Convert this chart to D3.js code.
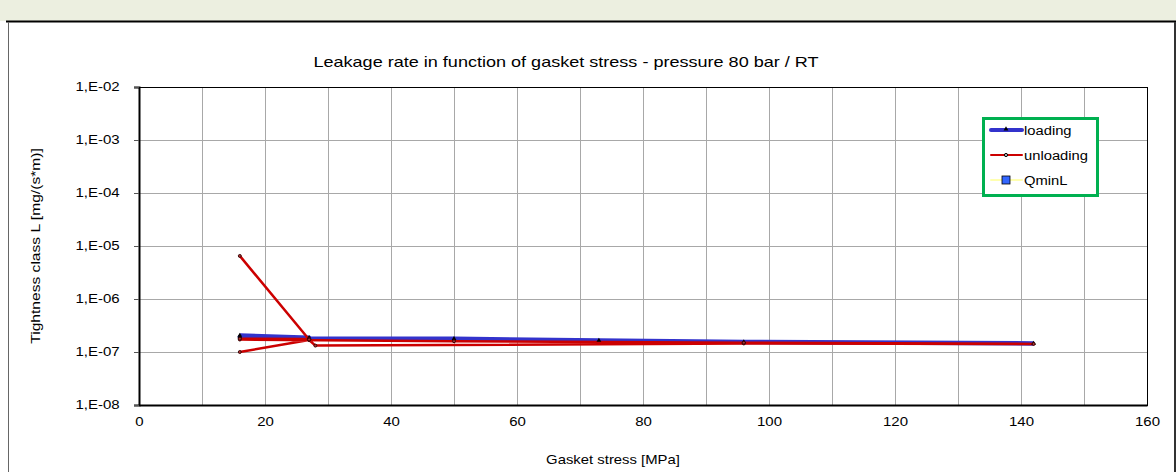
<!DOCTYPE html>
<html>
<head>
<meta charset="utf-8">
<script src="https://cdn.jsdelivr.net/npm/d3@7"></script>
<style>
  body { margin: 0; background: #fff; }
  svg { display: block; font-family: "Liberation Sans", Arial, sans-serif; }
</style>
</head>
<body>
<div id="chart"></div>
<script>
// values
var xTicks = [0, 20, 40, 60, 80, 100, 120, 140, 160];
var yTicks = [1e-2, 1e-3, 1e-4, 1e-5, 1e-6, 1e-7, 1e-8];
var yTickLabels = ["1,E-02", "1,E-03", "1,E-04", "1,E-05", "1,E-06", "1,E-07", "1,E-08"];

// gasket stress [MPa], leakage [mg/(s*m)]
var loadingX = [16, 27, 16, 27, 50, 73, 96, 142];
var loadingY = [2.05e-7, 1.85e-7, 1.92e-7, 1.8e-7, 1.78e-7, 1.65e-7, 1.55e-7, 1.45e-7];

var unloadingX = [16, 27, 28, 96, 142, 96, 50, 16, 27, 16, 27, 16];
var unloadingY = [1.0e-7, 1.68e-7, 1.32e-7, 1.45e-7, 1.42e-7, 1.5e-7, 1.6e-7, 1.72e-7, 1.75e-7, 1.78e-7, 1.72e-7, 6.5e-6];

var qminX = [];
var qminY = [];

var seriesNames = ["loading", "unloading", "QminL"];

var W = 1176, H = 472;
var margin = {left: 139, right: 1147, top: 87, bottom: 405};
var stretch = 1.25; // the picture's text is drawn wide

var svg = d3.select("#chart").append("svg").attr("width", W).attr("height", H);

// frame of the sheet
svg.append("rect").attr("x", 0).attr("y", 0).attr("width", W).attr("height", 21).attr("fill", "#ecefe0");
svg.append("line").attr("x1", 6).attr("x2", W).attr("y1", 21.5).attr("y2", 21.5)
   .attr("stroke", "#000").attr("stroke-width", 2);
svg.append("line").attr("x1", 8.5).attr("x2", 8.5).attr("y1", 22).attr("y2", H)
   .attr("stroke", "#666").attr("stroke-width", 1);
svg.append("line").attr("x1", 1175).attr("x2", 1175).attr("y1", 22).attr("y2", H)
   .attr("stroke", "#333").attr("stroke-width", 2);

var x = d3.scaleLinear().domain([0, 160]).range([margin.left, margin.right]);
var y = d3.scaleLog().domain([1e-8, 1e-2]).range([margin.bottom, margin.top]);

var plotW = margin.right - margin.left, plotH = margin.bottom - margin.top;

// grid
var grid = svg.append("g").attr("shape-rendering", "crispEdges");
grid.selectAll(".vg").data(d3.range(10, 160, 10)).enter().append("line")
    .attr("x1", function(d){ return x(d); }).attr("x2", function(d){ return x(d); })
    .attr("y1", margin.top).attr("y2", margin.bottom)
    .attr("stroke", "#a8a8a8");
grid.selectAll(".hg").data(yTicks.slice(1, 6)).enter().append("line")
    .attr("x1", margin.left).attr("x2", margin.right)
    .attr("y1", function(d){ return y(d); }).attr("y2", function(d){ return y(d); })
    .attr("stroke", "#a8a8a8");

// plot border
svg.append("rect").attr("x", margin.left).attr("y", margin.top)
   .attr("width", plotW).attr("height", plotH)
   .attr("fill", "none").attr("stroke", "#000").attr("stroke-width", 1)
   .attr("shape-rendering", "crispEdges");

// axes
var yAxis = d3.axisLeft(y).tickValues(yTicks)
    .tickFormat(function(d, i){ return yTickLabels[i]; })
    .tickSize(5).tickPadding(10.5);
var gy = svg.append("g").attr("transform", "translate(" + margin.left + ",0)").call(yAxis);
gy.select(".domain").attr("stroke-width", 2);
gy.selectAll("text").attr("font-size", 12).attr("fill", "#000")
  .attr("transform", "scale(" + stretch + ",1)")
  .attr("font-family", "Liberation Sans, Arial, sans-serif");
gy.selectAll(".tick line").attr("stroke", "#555");

var xAxis = d3.axisBottom(x).tickValues(xTicks).tickSize(0).tickPadding(12);
var gx = svg.append("g").attr("transform", "translate(0," + margin.bottom + ")").call(xAxis);
gx.select(".domain").attr("stroke-width", 2);
gx.selectAll("text").attr("font-size", 12).attr("fill", "#000")
  .attr("transform", "scale(" + stretch + ",1)")
  .attr("font-family", "Liberation Sans, Arial, sans-serif");

// titles
function wideText(px, py, sx, size, str) {
  return svg.append("text").attr("transform", "translate(" + px + "," + py + ") scale(" + sx + ",1)")
    .attr("text-anchor", "middle").attr("font-size", size).text(str);
}
wideText(566, 67, 1.29, 14, "Leakage rate in function of gasket stress - pressure 80 bar / RT");
wideText(613, 464, 1.24, 12, "Gasket stress [MPa]");
svg.append("text").attr("transform", "translate(40,246) rotate(-90) scale(1.3,1)").attr("text-anchor", "middle")
   .attr("font-size", 12).text("Tightness class L [mg/(s*m)]");

var line = d3.line().x(function(d){ return x(d[0]); }).y(function(d){ return y(d[1]); });
var loading = d3.zip(loadingX, loadingY);
var unloading = d3.zip(unloadingX, unloadingY);
var qmin = d3.zip(qminX, qminY);

var plot = svg.append("g");
plot.append("path").datum(loading).attr("d", line)
    .attr("fill", "none").attr("stroke", "#3333cc").attr("stroke-width", 4.5)
    .attr("stroke-linejoin", "round");
plot.append("path").datum(unloading).attr("d", line)
    .attr("fill", "none").attr("stroke", "#cc0000").attr("stroke-width", 2.5)
    .attr("stroke-linejoin", "round");

var tri = d3.symbol().type(d3.symbolTriangle).size(10);
plot.selectAll(".lm").data(loading).enter().append("path")
    .attr("transform", function(d){ return "translate(" + x(d[0]) + "," + y(d[1]) + ")"; })
    .attr("d", tri).attr("fill", "#000");
plot.selectAll(".um").data(unloading).enter().append("circle")
    .attr("cx", function(d){ return x(d[0]); }).attr("cy", function(d){ return y(d[1]); })
    .attr("r", 1.5).attr("fill", "#a33").attr("stroke", "#300").attr("stroke-width", 0.9);
plot.selectAll(".qm").data(qmin).enter().append("rect")
    .attr("x", function(d){ return x(d[0]) - 4; }).attr("y", function(d){ return y(d[1]) - 4; })
    .attr("width", 8).attr("height", 8).attr("fill", "#3366ff").attr("stroke", "#000");

// legend
var lg = svg.append("g").attr("transform", "translate(982,117)");
lg.append("rect").attr("x", 1.5).attr("y", 1.5).attr("width", 114).attr("height", 77)
  .attr("fill", "#fff").attr("stroke", "#00b050").attr("stroke-width", 3);
var rows = [13, 38, 63];
var lineColors = ["#3333cc", "#cc0000", "#ffffb0"];
var lineWidths = [4, 2, 2];
seriesNames.forEach(function(name, i){
  var r = lg.append("g").attr("transform", "translate(0," + rows[i] + ")");
  r.append("line").attr("x1", 9).attr("x2", 40).attr("y1", 0).attr("y2", 0)
   .attr("stroke", lineColors[i]).attr("stroke-width", lineWidths[i]).attr("stroke-linecap", "round");
  if (i === 0) r.append("path").attr("transform", "translate(24,-1)").attr("d", tri).attr("fill", "#000");
  if (i === 1) r.append("circle").attr("cx", 24).attr("cy", 0).attr("r", 1.6).attr("fill", "#bbb").attr("stroke", "#000");
  if (i === 2) r.append("rect").attr("x", 20).attr("y", -4).attr("width", 8).attr("height", 8)
                .attr("fill", "#3366ff").attr("stroke", "#000").attr("stroke-width", 0.8);
  r.append("text").attr("transform", "translate(42,4.5) scale(1.23,1)").attr("font-size", 12).text(name);
});
</script>
</body>
</html>
